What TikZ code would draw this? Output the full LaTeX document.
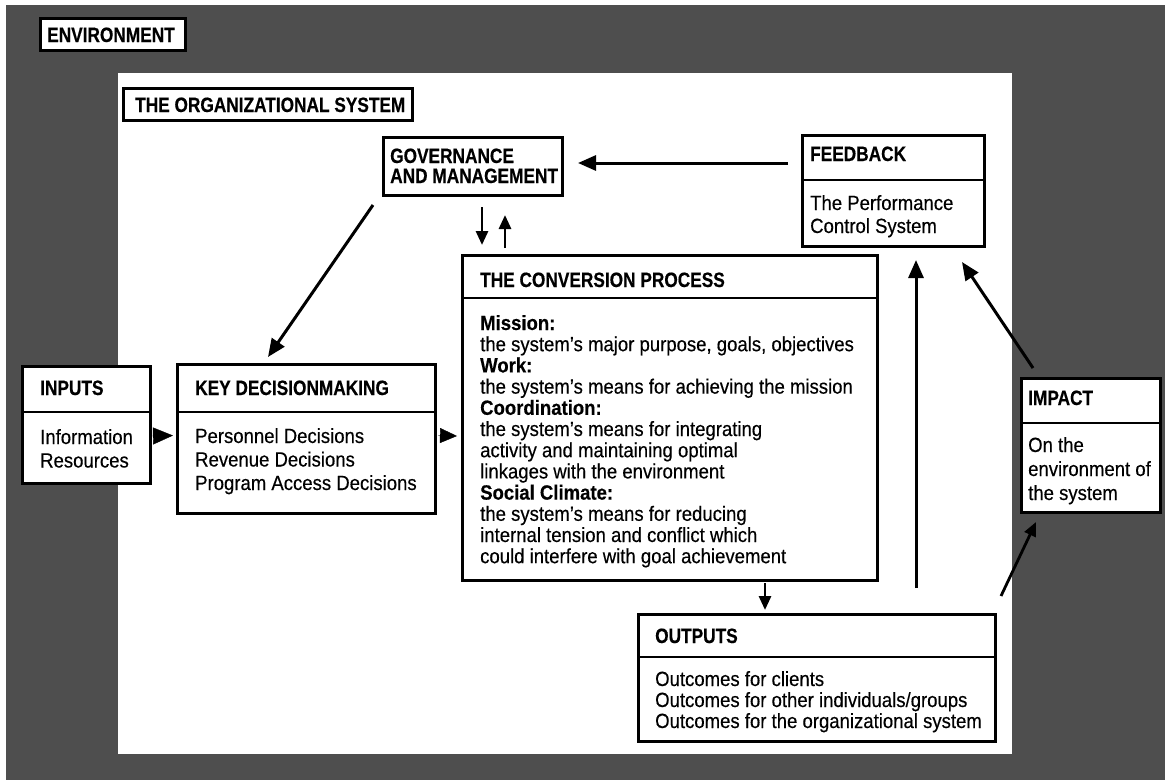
\documentclass[tikz,border=0pt]{standalone}
\usepackage{fontspec}
\setmainfont{Liberation Sans}[FakeStretch=0.9, FakeBold=0.35]
\newfontfamily\hdfamily{Liberation Sans}[FakeStretch=0.83, FakeBold=0.4]
\usetikzlibrary{arrows.meta,calc}
\definecolor{envgray}{RGB}{78,78,78}
\newcommand{\tl}[1]{\vtop{\lineskiplimit=-20pt\halign{##\hfil\cr#1\crcr}}}
\begin{document}
\begin{tikzpicture}[x=1pt,y=-1pt,
  box/.style={draw, line width=3pt, fill=white, inner sep=0pt, outer sep=0pt, anchor=north west},
  divline/.style={line width=2pt},
  hd/.style={anchor=base west, inner sep=0pt, font=\hdfamily\fontsize{20.8}{20}\selectfont\bfseries},
  bd/.style={anchor=base west, inner sep=0pt, font=\fontsize{20.6}{#1}\selectfont},
  bd/.default=21,
  arr/.style={line width=3pt, -{Triangle[length=18pt,width=15pt]}},
  arrs/.style={line width=2.8pt, -{Triangle[length=14pt,width=12pt]}},
  tri/.style={line width=0.4pt, -{Triangle[length=#1]}},
]
\useasboundingbox (0,0) rectangle (1165,780);
\fill[white] (0,0) rectangle (1165,780);
\fill[envgray] (6,5) rectangle (1165,780);
\fill[white] (118,73) rectangle (1012,754);

% boxes
\node[box, minimum width=145pt, minimum height=32pt] (env) at (40,18) {};
\node[hd] (envt) at (47,42) {ENVIRONMENT};

\node[box, minimum width=289pt, minimum height=32pt] (org) at (123,88) {};
\node[hd] (orgt) at (135,112) {THE ORGANIZATIONAL SYSTEM};

\node[box, minimum width=179pt, minimum height=58pt] (gov) at (383,137) {};
\node[hd] (govt) at (390,163) {\tl{GOVERNANCE\cr AND MANAGEMENT}};

\node[box, minimum width=182pt, minimum height=111pt] (fb) at (802,135) {};
\draw[divline] ([yshift=-45pt]fb.north west) -- ([yshift=-45pt]fb.north east);
\node[hd] (fbh) at (810,161) {FEEDBACK};
\node[bd=23] (fbb) at (810,210) {\tl{The Performance\cr Control System}};

\node[box, minimum width=415pt, minimum height=325pt] (conv) at (462,255) {};
\draw[divline] ([yshift=-43pt]conv.north west) -- ([yshift=-43pt]conv.north east);
\node[hd] (convh) at (480,287) {THE CONVERSION PROCESS};
\node[bd=21.2] (convb) at (480,330) {\tl{\textbf{Mission:}\cr
the system's major purpose, goals, objectives\cr
\textbf{Work:}\cr
the system's means for achieving the mission\cr
\textbf{Coordination:}\cr
the system's means for integrating\cr
activity and maintaining optimal\cr
linkages with the environment\cr
\textbf{Social Climate:}\cr
the system's means for reducing\cr
internal tension and conflict which\cr
could interfere with goal achievement}};

\node[box, minimum width=128pt, minimum height=117pt] (in) at (22,366) {};
\draw[divline] ([yshift=-46pt]in.north west) -- ([yshift=-46pt]in.north east);
\node[hd] (inh) at (40,395) {INPUTS};
\node[bd=23.5] (inb) at (40,444) {\tl{Information\cr Resources}};

\node[box, minimum width=258pt, minimum height=149pt] (kd) at (177,364) {};
\draw[divline] ([yshift=-48pt]kd.north west) -- ([yshift=-48pt]kd.north east);
\node[hd] (kdh) at (195,395) {KEY DECISIONMAKING};
\node[bd=23.5] (kdb) at (195,443) {\tl{Personnel Decisions\cr Revenue Decisions\cr Program Access Decisions}};

\node[box, minimum width=357pt, minimum height=127pt] (out) at (638,614) {};
\draw[divline] ([yshift=-43pt]out.north west) -- ([yshift=-43pt]out.north east);
\node[hd] (outh) at (655,643) {OUTPUTS};
\node[bd=21] (outb) at (655,686) {\tl{Outcomes for clients\cr Outcomes for other individuals/groups\cr Outcomes for the organizational system}};

\node[box, minimum width=139pt, minimum height=134pt] (imp) at (1021,378) {};
\draw[divline] ([yshift=-45pt]imp.north west) -- ([yshift=-45pt]imp.north east);
\node[hd] (imph) at (1028,405) {IMPACT};
\node[bd=24] (impb) at (1028,452) {\tl{On the\cr environment of\cr the system}};

% connectors
\draw[arr] ([xshift=-14pt,yshift=-28pt]fb.north west) -- ([xshift=16pt,yshift=3pt]gov.east);
\draw[arr] ([xshift=-10pt,yshift=-10pt]gov.south west) -- ([xshift=91pt,yshift=7pt]kd.north west);
\draw[arrs] ([xshift=99pt,yshift=-12pt]gov.south west) -- ([xshift=20pt,yshift=10pt]conv.north west);
\draw[arrs] ([xshift=43pt,yshift=7pt]conv.north west) -- ([xshift=122pt,yshift=-20pt]gov.south west);
\draw[arrs] ([xshift=303pt,yshift=-3pt]conv.south west) -- ([xshift=127pt,yshift=4pt]out.north west);
\draw[arr] ([xshift=278pt,yshift=26pt]out.north west) -- ([xshift=114pt,yshift=-14pt]fb.south west);
\draw[arr] ([xshift=12pt,yshift=10pt]imp.north west) -- ([xshift=-22pt,yshift=-16pt]fb.south east);
\draw[arrs] ([xshift=6pt,yshift=18pt]out.north east) -- ([xshift=15pt,yshift=-10pt]imp.south west);
\draw[tri={20pt,width=17pt}] ([xshift=1pt,yshift=-11.5pt]in.east) -- ([xshift=-4pt,yshift=3pt]kd.west);
\draw[tri={17pt,width=15pt}] ([xshift=3pt,yshift=3pt]kd.east) -- ([xshift=-5pt,yshift=-18.5pt]conv.west);
\end{tikzpicture}
\end{document}
